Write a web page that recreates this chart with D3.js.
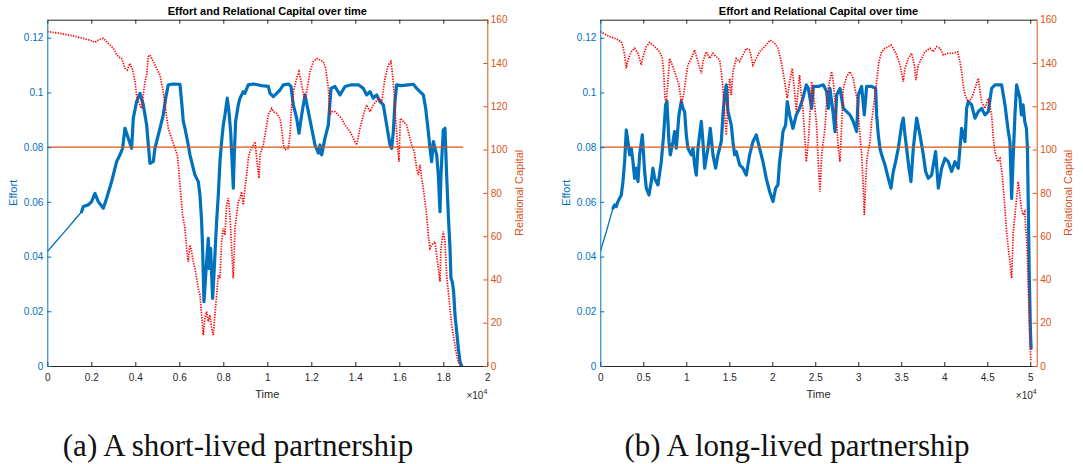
<!DOCTYPE html>
<html>
<head>
<meta charset="utf-8">
<script src="https://cdn.jsdelivr.net/npm/d3@7"></script>
<style>
  html, body { margin: 0; padding: 0; background: #fff; }
  svg { display: block; }
</style>
</head>
<body>
<script>
// ---------------- DATA ----------------
// Panel (a): short-lived partnership
const effortTimeA = [0,400,800,1200,1560,1636,1863,2015,2166,2318,
2545,2697,2924,3151,3303,3424,3530,3681,3833,3909,
4060,4212,4363,4515,4666,4818,4893,5121,5272,5393,
5499,5727,6030,6105,6181,6257,6408,6484,6560,6711,
6863,6939,7015,7060,7121,7181,7242,7317,7363,7424,
7514,7575,7620,7696,7772,7848,7923,7999,8075,8181,
8257,8333,8408,8454,8499,8560,8681,8757,8833,8908,
8984,9135,9363,9441,9744,10047,10123,10274,10426,10577,
10729,10956,11077,11183,11335,11441,11562,11714,11865,12017,
12168,12320,12395,12471,12623,12774,12895,13077,13304,13532,
13835,14138,14365,14516,14668,14819,14971,15122,15274,15425,
15577,15653,15728,15804,15880,16107,16410,16637,16789,16940,
17092,17198,17319,17395,17471,17547,17622,17698,17774,17850,
17895,17955,18001,18077,18152,18228,18304,18349,18410,18470,
18531,18607,18683,18759,18834];
const effortA = [0.0418,0.0455,0.0492,0.0530,0.0564,0.0583,0.0589,0.0601,0.0631,0.0601,
0.0577,0.0613,0.0674,0.0747,0.0772,0.0796,0.0869,0.0833,0.0796,0.0906,
0.0967,0.0997,0.0955,0.0881,0.0741,0.0747,0.0796,0.0869,0.0918,0.0985,
0.1028,0.1031,0.1030,0.0967,0.0894,0.0869,0.0808,0.0772,0.0747,0.0698,
0.0674,0.0625,0.0528,0.0430,0.0235,0.0308,0.0382,0.0467,0.0357,0.0430,
0.0247,0.0333,0.0406,0.0528,0.0625,0.0747,0.0820,0.0881,0.0918,0.0979,
0.0930,0.0857,0.0735,0.0650,0.0772,0.0894,0.0955,0.0979,0.0991,0.1003,
0.0997,0.1028,0.1031,0.1030,0.1025,0.1022,0.0997,0.0985,0.0997,0.1009,
0.1028,0.1031,0.1022,0.0955,0.0906,0.0851,0.0918,0.0991,0.0930,0.0869,
0.0808,0.0778,0.0808,0.0772,0.0833,0.0881,0.1015,0.1022,0.0991,0.1022,
0.1028,0.1028,0.1015,0.0991,0.1003,0.0979,0.0991,0.0967,0.0955,0.0881,
0.0808,0.0796,0.0857,0.0967,0.1028,0.1025,0.1028,0.1030,0.1015,0.1003,
0.0991,0.0942,0.0857,0.0796,0.0747,0.0820,0.0796,0.0772,0.0698,0.0564,
0.0698,0.0796,0.0863,0.0869,0.0698,0.0552,0.0430,0.0321,0.0308,0.0272,
0.0187,0.0126,0.0065,0.0016,0.0001];
const capitalTimeA = [0,576,1182,1636,1939,2166,2318,2545,2772,3000,
3121,3227,3378,3530,3636,3757,3878,3984,4060,4136,
4212,4287,4363,4439,4515,4590,4666,4818,4969,5121,
5272,5393,5499,5650,5802,5909,5969,6030,6151,6257,
6333,6408,6484,6560,6636,6711,6787,6863,6939,7015,
7090,7166,7242,7317,7393,7469,7545,7620,7696,7772,
7848,7923,7999,8075,8151,8227,8302,8378,8454,8530,
8605,8681,8757,8833,8908,8984,9060,9135,9211,9363,
9441,9517,9623,9668,9820,9971,10047,10199,10274,10426,
10577,10653,10729,10805,10956,11032,11108,11183,11335,11441,
11562,11683,11789,11941,12092,12244,12395,12547,12653,12774,
12850,12926,13077,13229,13380,13532,13759,13910,14062,14213,
14365,14516,14668,14819,15047,15198,15350,15501,15622,15728,
15834,15925,15986,16046,16183,16334,16486,16562,16683,16789,
16865,16940,17016,17092,17168,17243,17319,17395,17471,17622,
17698,17774,17850,17895,18001,18077,18152,18228,18304,18380,
18455,18531,18607,18683,18759];
const capitalA = [154.5,153.7,152.5,151.4,150.5,149.5,150.6,151.4,149.1,146.8,
144.5,142.9,142.1,137.5,136.8,139.8,136.8,131.4,125.2,122.1,
120.6,119.0,125.2,131.4,134.4,142.9,143.7,140.6,137.5,134.4,
126.7,117.5,109.8,105.2,100.6,97.5,91.3,83.6,69.8,63.6,
54.4,48.2,55.9,52.8,48.2,45.1,40.5,35.9,32.8,23.6,
14.3,22.0,25.1,20.5,23.6,17.4,14.3,23.6,32.8,42.0,
40.5,57.4,63.6,60.5,74.4,77.5,69.8,54.4,40.5,63.6,
69.8,75.9,77.5,80.5,74.4,82.1,88.2,95.9,99.0,102.1,
103.6,95.9,86.7,97.5,102.1,111.3,116.0,119.0,117.5,116.7,
114.4,109.8,102.1,99.8,100.6,106.7,120.6,126.7,132.9,136.0,
129.8,123.7,126.7,136.0,140.6,142.1,141.4,140.6,137.5,128.3,
116.0,117.5,117.5,116.0,114.4,111.3,108.3,105.2,102.1,109.8,
116.0,120.6,117.5,120.6,123.7,122.1,132.9,139.1,140.6,131.4,
114.4,100.6,94.4,114.4,112.9,111.3,105.2,102.1,99.0,91.3,
88.2,92.9,86.7,82.1,75.9,69.8,60.5,54.4,55.9,57.4,
51.3,45.1,39.0,54.4,62.1,57.4,42.0,34.3,26.6,19.0,
14.3,9.7,5.1,2.0,0.2];
const refTimeA = [0, 18900];
const smoothEndA = 4;   // index where the smooth start of effort ends

// Panel (b): long-lived partnership
const effortTimeB = [0,698,1473,1667,1860,2054,2442,2636,2829,3023,
3217,3411,3605,3798,3992,4186,4380,4574,4884,5155,
5349,5659,5930,6124,6318,6705,7093,7364,7597,7752,
7985,8140,8450,8643,8837,9147,9419,9612,9806,10000,
10194,10581,10775,10969,11163,11357,11550,11744,11938,12132,
12519,12790,13101,13411,13682,14070,14264,14457,14651,14845,
15039,15233,15426,15620,15814,16202,16589,16977,17364,17752,
18140,18527,18915,19302,19690,20078,20388,20659,20853,21047,
21240,21551,21745,22016,22403,22791,23178,23566,23954,24190,
24577,24771,25352,25934,26321,26515,26709,27097,27290,27484,
27872,28259,28647,29035,29422,29810,30004,30391,30701,30973,
31554,32019,32135,32329,32523,32717,33104,33492,33802,34073,
34345,34655,35042,35236,35430,35624,35895,36128,36399,36787,
37174,37562,37833,38143,38531,38995,39306,39694,40081,40469,
40856,41244,41632,42019,42407,42601,42794,43182,43570,43957,
44345,44732,45120,45508,45895,46670,47058,47446,47640,47833,
48027,48221,48414,48802,48970,49165,49360,49555,49672,49789,
49867,49945,50023,50100];
const effortB = [0.0418,0.0491,0.0577,0.0589,0.0583,0.0601,0.0625,0.0674,0.0747,0.0863,
0.0820,0.0772,0.0796,0.0747,0.0686,0.0723,0.0674,0.0772,0.0845,0.0711,
0.0650,0.0625,0.0674,0.0723,0.0686,0.0662,0.0747,0.0845,0.0955,0.0967,
0.0820,0.0772,0.0820,0.0857,0.0796,0.0918,0.0967,0.0942,0.0930,0.0845,
0.0796,0.0772,0.0796,0.0735,0.0698,0.0796,0.0845,0.0894,0.0820,0.0723,
0.0796,0.0869,0.0772,0.0723,0.0772,0.0820,0.0918,0.0991,0.1028,0.0930,
0.0906,0.0881,0.0820,0.0772,0.0784,0.0735,0.0723,0.0698,0.0772,0.0820,
0.0845,0.0796,0.0747,0.0686,0.0638,0.0601,0.0650,0.0662,0.0747,0.0796,
0.0857,0.0881,0.0967,0.0918,0.0869,0.0918,0.0942,0.0979,0.1028,0.1015,
0.0942,0.1022,0.1022,0.1028,0.1003,0.0942,0.1015,0.0918,0.0857,0.0991,
0.1015,0.0942,0.0930,0.0918,0.0894,0.0857,0.0991,0.1022,0.0918,0.1022,
0.1022,0.1015,0.0918,0.0845,0.0796,0.0772,0.0735,0.0686,0.0650,0.0711,
0.0747,0.0796,0.0881,0.0906,0.0845,0.0796,0.0723,0.0674,0.0796,0.0906,
0.0845,0.0772,0.0711,0.0686,0.0698,0.0784,0.0650,0.0723,0.0759,0.0747,
0.0711,0.0747,0.0723,0.0869,0.0820,0.0942,0.0967,0.0955,0.0906,0.0930,
0.0942,0.0918,0.0930,0.1015,0.1028,0.1028,0.0955,0.0857,0.0820,0.0613,
0.0772,0.0918,0.1028,0.0979,0.0918,0.0955,0.0894,0.0869,0.0796,0.0552,
0.0369,0.0247,0.0126,0.0065];
const capitalTimeB = [0,1085,1860,2442,2636,2829,3023,3217,3605,3992,
4380,4767,4961,5349,5736,6124,6512,6899,7209,7364,
7519,7675,7868,8062,8372,8643,8837,9147,9419,9612,
9806,10000,10194,10581,10969,11357,11744,11938,12326,12713,
13101,13488,13876,14070,14264,14457,14651,14845,15039,15233,
15426,15814,16202,16589,16977,17364,17752,18140,18527,18915,
19302,19767,20271,20659,21047,21318,21551,21745,22016,22326,
22597,22791,22985,23178,23372,23566,23760,23954,24190,24383,
24577,24771,24965,25159,25352,25546,25740,25934,26128,26321,
26515,26903,27097,27290,27484,27678,27872,28066,28259,28647,
29035,29422,29616,29926,30198,30391,30585,30701,30857,31012,
31360,31554,31748,31942,32135,32407,32717,33104,33492,33802,
34073,34461,34849,35236,35430,35818,36205,36516,36710,36981,
37368,37756,38337,38725,39112,39500,39888,40469,41050,41554,
41825,42019,42213,42407,42794,43182,43570,43957,44345,44732,
45120,45508,45702,45895,46205,46476,46748,47058,47252,47446,
47640,47833,48027,48221,48608,48970,49165,49360,49477,49633,
49750,49867,49945,50062];
const capitalB = [154.5,152.2,151.1,149.8,147.5,143.7,137.5,141.4,145.2,146.8,
144.5,139.1,142.9,147.5,149.5,148.3,146.8,145.2,142.1,136.0,
123.7,122.1,131.4,142.1,139.1,136.0,133.7,129.8,122.1,123.7,
128.3,134.4,139.1,142.1,146.0,140.6,135.2,140.6,145.2,142.1,
144.5,142.9,141.4,136.0,128.3,116.0,106.7,122.1,132.9,125.2,
136.0,142.1,140.6,143.7,146.8,146.0,139.1,142.1,145.2,146.8,
148.3,150.6,149.1,146.8,140.6,134.4,128.3,123.7,131.4,137.5,
126.7,117.5,126.7,134.4,125.2,119.0,106.7,94.4,103.6,116.0,
131.4,126.7,119.0,111.3,92.9,80.5,97.5,103.6,109.8,122.1,
128.3,136.0,131.4,122.1,112.9,100.6,94.4,111.3,128.3,133.7,
136.0,132.9,128.3,122.1,106.7,97.5,82.1,69.8,85.2,95.9,
103.6,112.9,119.0,125.2,131.4,140.6,145.2,146.8,147.5,148.3,
146.8,143.7,139.1,131.4,137.5,142.1,144.5,139.1,132.1,139.1,
142.1,145.2,146.8,145.2,147.5,146.8,143.7,144.5,144.5,145.2,
140.6,136.0,129.8,125.2,122.1,123.7,128.3,132.9,122.1,119.0,
123.7,116.0,105.2,99.0,94.4,95.9,88.2,72.8,62.1,54.4,
48.2,40.5,62.1,69.8,85.2,72.8,69.8,71.3,63.6,54.4,
39.0,23.6,14.3,2.0];
const refTimeB = [0, 50040];
const smoothEndB = 2;

// Reference level and axes
const refEffort = 0.08;
const effortMax = 0.1266;
const capitalMax = 160;
const effortTicks = [0, 0.02, 0.04, 0.06, 0.08, 0.1, 0.12];
const effortTickLabels = ["0", "0.02", "0.04", "0.06", "0.08", "0.1", "0.12"];
const capitalTicks = [0, 20, 40, 60, 80, 100, 120, 140, 160];
const capitalTickLabels = ["0", "20", "40", "60", "80", "100", "120", "140", "160"];
const timeTicksA = [0,2000,4000,6000,8000,10000,12000,14000,16000,18000,20000];
const timeTickLabelsA = ["0","0.2","0.4","0.6","0.8","1","1.2","1.4","1.6","1.8","2"];
const timeTicksB = [0,5000,10000,15000,20000,25000,30000,35000,40000,45000,50000];
const timeTickLabelsB = ["0","0.5","1","1.5","2","2.5","3","3.5","4","4.5","5"];
const titleText = "Effort and Relational Capital over time";
const captions = ["(a) A short-lived partnership", "(b) A long-lived partnership"];

// ---------------- DRAWING ----------------
const W = 1083, H = 464;
const BLUE = "#0072BD", ORANGE = "#D95319", RED = "#FF0000", DARK = "#262626";
const FONT = "'Liberation Sans', Arial, Helvetica, sans-serif";

const svg = d3.select("body").append("svg")
  .attr("width", W).attr("height", H)
  .attr("viewBox", `0 0 ${W} ${H}`);
svg.append("rect").attr("width", W).attr("height", H).attr("fill", "#fff");

const TOP = 19.7, BOTTOM = 366;

const panels = [
  { id: "a", left: 47.3, right: 487.3, xMax: 20000,
    tT: effortTimeA, e: effortA, cT: capitalTimeA, c: capitalA, ref: refTimeA, smoothEnd: smoothEndA,
    ticks: timeTicksA, labels: timeTickLabelsA, caption: captions[0], capX: 238 },
  { id: "b", left: 600.3, right: 1036.7, xMax: 50750,
    tT: effortTimeB, e: effortB, cT: capitalTimeB, c: capitalB, ref: refTimeB, smoothEnd: smoothEndB,
    ticks: timeTicksB, labels: timeTickLabelsB, caption: captions[1], capX: 797 }
];

panels.forEach(p => {
  const x = d3.scaleLinear().domain([0, p.xMax]).range([p.left, p.right]);
  const yL = d3.scaleLinear().domain([0, effortMax]).range([BOTTOM, TOP]);
  const yR = d3.scaleLinear().domain([0, capitalMax]).range([BOTTOM, TOP]);
  const g = svg.append("g");

  g.append("clipPath").attr("id", "clip-" + p.id)
    .append("rect").attr("x", p.left).attr("y", TOP)
    .attr("width", p.right - p.left).attr("height", BOTTOM - TOP);
  const plot = g.append("g").attr("clip-path", `url(#clip-${p.id})`);

  // Effort (left axis): pairs of [time, value]
  const pts = p.e.map((v, i) => [p.tT[i], v]);
  const effortLine = d3.line().x(d => x(d[0])).y(d => yL(d[1]));
  // smooth deterministic start (thin)
  plot.append("path").datum(pts.slice(0, p.smoothEnd + 1))
    .attr("d", effortLine)
    .attr("fill", "none").attr("stroke", BLUE)
    .attr("stroke-width", 1.3).attr("stroke-linejoin", "round");
  // noisy part (thick band)
  plot.append("path").datum(pts.slice(p.smoothEnd))
    .attr("d", effortLine)
    .attr("fill", "none").attr("stroke", BLUE)
    .attr("stroke-width", 3.2).attr("stroke-linejoin", "round")
    .attr("stroke-linecap", "round");

  // Relational capital (right axis), dotted red
  const capLine = d3.line().x((d, i) => x(p.cT[i])).y(d => yR(d));
  plot.append("path").datum(p.c)
    .attr("d", capLine)
    .attr("fill", "none").attr("stroke", RED)
    .attr("stroke-width", 1.7).attr("stroke-dasharray", "1.3 1.3");

  // Reference level
  const refLine = d3.line().x(d => x(d)).y(() => yL(refEffort));
  plot.append("path").datum(p.ref)
    .attr("d", refLine).attr("fill", "none")
    .attr("stroke", ORANGE).attr("stroke-width", 1.1);

  // Axes
  const styleAxis = (sel, color, textColor) => {
    sel.attr("font-family", FONT).attr("font-size", 10);
    sel.selectAll(".domain").attr("stroke", color).attr("stroke-width", 1);
    sel.selectAll(".tick line").attr("stroke", color).attr("stroke-width", 1);
    sel.selectAll(".tick text").attr("fill", textColor);
  };

  const bottom = g.append("g").attr("transform", `translate(0,${BOTTOM})`)
    .call(d3.axisBottom(x).tickValues(p.ticks).tickFormat((d, i) => p.labels[i])
      .tickSizeInner(-4).tickSizeOuter(0).tickPadding(8));
  styleAxis(bottom, DARK, DARK);

  const top = g.append("g").attr("transform", `translate(0,${TOP})`)
    .call(d3.axisTop(x).tickValues(p.ticks).tickFormat("")
      .tickSizeInner(-4).tickSizeOuter(0));
  styleAxis(top, DARK, DARK);

  const leftAx = g.append("g").attr("transform", `translate(${p.left},0)`)
    .call(d3.axisLeft(yL).tickValues(effortTicks).tickFormat((d, i) => effortTickLabels[i])
      .tickSizeInner(-4).tickSizeOuter(0).tickPadding(4));
  styleAxis(leftAx, BLUE, BLUE);

  const rightAx = g.append("g").attr("transform", `translate(${p.right},0)`)
    .call(d3.axisRight(yR).tickValues(capitalTicks).tickFormat((d, i) => capitalTickLabels[i])
      .tickSizeInner(-4).tickSizeOuter(0).tickPadding(3.5));
  styleAxis(rightAx, ORANGE, ORANGE);

  // Title
  g.append("text").attr("x", (p.left + p.right) / 2).attr("y", 15)
    .attr("text-anchor", "middle").attr("font-family", FONT)
    .attr("font-weight", "bold").attr("font-size", 11).attr("fill", "#000")
    .text(titleText);

  // X label
  g.append("text").attr("x", (p.left + p.right) / 2).attr("y", 397.5)
    .attr("text-anchor", "middle").attr("font-family", FONT)
    .attr("font-size", 11).attr("fill", DARK).text("Time");

  // exponent
  const ex = g.append("text").attr("x", p.right).attr("y", 398.5)
    .attr("text-anchor", "end").attr("font-family", FONT)
    .attr("font-size", 10).attr("fill", DARK);
  ex.append("tspan").text("\u00d710");
  ex.append("tspan").attr("dy", -5).attr("font-size", 7).text("4");

  // Y labels
  g.append("text")
    .attr("transform", `translate(${p.left - 34.3},${(TOP + BOTTOM) / 2}) rotate(-90)`)
    .attr("text-anchor", "middle").attr("dy", "0.35em")
    .attr("font-family", FONT).attr("font-size", 11).attr("fill", BLUE)
    .text("Effort");
  g.append("text")
    .attr("transform", `translate(${p.right + 31.7},${(TOP + BOTTOM) / 2}) rotate(-90)`)
    .attr("text-anchor", "middle").attr("dy", "0.35em")
    .attr("font-family", FONT).attr("font-size", 11).attr("fill", ORANGE)
    .text("Relational Capital");

  // Caption
  svg.append("text").attr("x", p.capX).attr("y", 456)
    .attr("text-anchor", "middle")
    .attr("font-family", "'Liberation Serif', 'Times New Roman', serif")
    .attr("font-size", 31).attr("fill", "#111")
    .text(p.caption);
});
</script>
</body>
</html>
